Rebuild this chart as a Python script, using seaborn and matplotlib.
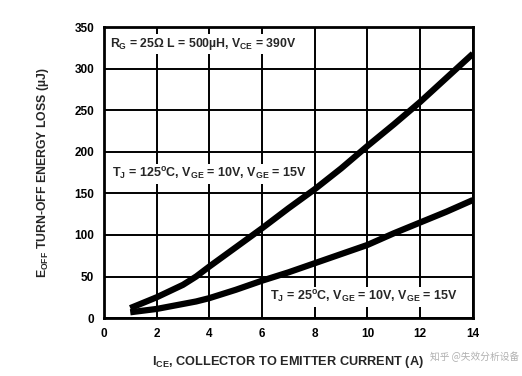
import matplotlib
matplotlib.use("Agg")
import matplotlib.pyplot as plt
import seaborn as sns
import pandas as pd

# Data
current_a = [1, 2, 3, 3.5, 4, 5, 6, 7, 8, 9, 10, 11, 12, 13, 14]
eoff_125c = [12, 25, 40, 50, 62, 85, 108, 132, 155, 180, 207, 233, 260, 289, 318]
eoff_25c = [7, 11, 17, 20, 24, 34, 45, 55, 66, 77, 88, 102, 115, 128, 142]
x_ticks = [0, 2, 4, 6, 8, 10, 12, 14]
y_ticks = [0, 50, 100, 150, 200, 250, 300, 350]

sns.set_theme(style="white")
plt.rcParams['font.family'] = ['Liberation Sans', 'DejaVu Sans']
plt.rcParams['font.weight'] = 'bold'
plt.rcParams['mathtext.fontset'] = 'custom'
plt.rcParams['mathtext.rm'] = 'Liberation Sans:bold'
plt.rcParams['mathtext.it'] = 'Liberation Sans:bold'
plt.rcParams['mathtext.bf'] = 'Liberation Sans:bold'

df = pd.concat([
    pd.DataFrame({"I": current_a, "E": eoff_125c, "curve": "125"}),
    pd.DataFrame({"I": current_a, "E": eoff_25c, "curve": "25"}),
])

fig = plt.figure(figsize=(5.22, 3.76), dpi=100)
ax = fig.add_axes([0.199, 0.154, 0.707, 0.774])
sns.lineplot(data=df, x="I", y="E", hue="curve", palette=["black", "black"],
             linewidth=4.5, legend=False, ax=ax, zorder=3, solid_capstyle='butt')

ax.set_xlim(0, 14)
ax.set_ylim(0, 350)
ax.set_xticks(x_ticks)
ax.set_yticks(y_ticks)
ax.set_xticklabels([str(v) for v in x_ticks], fontsize=8.5, fontweight='bold')
ax.set_yticklabels([str(v) for v in y_ticks], fontsize=8.5, fontweight='bold')
ax.tick_params(axis='both', length=0, pad=7, colors='black')
ax.grid(True, color='black', linewidth=1.4)
ax.set_axisbelow(True)
for s in ax.spines.values():
    s.set_color('black')
    s.set_linewidth(2)

ax.set_xlabel(r"I$_{\mathregular{CE}}$, COLLECTOR TO EMITTER CURRENT (A)",
              fontsize=9.2, fontweight='bold', labelpad=10)
ax.set_ylabel(r"E$_{\mathregular{OFF}}$ TURN-OFF ENERGY LOSS (µJ)",
              fontsize=8.8, fontweight='bold', labelpad=17)

bbox = dict(facecolor='white', edgecolor='none', pad=1.5)
ax.text(0.25, 330, r"R$_{\mathregular{G}}$ = 25Ω L = 500µH, V$_{\mathregular{CE}}$ = 390V",
        fontsize=8.8, fontweight='bold', va='center', ha='left', bbox=bbox, zorder=4)
ax.text(0.3, 173, r"T$_{\mathregular{J}}$ = 125$^{\mathregular{o}}$C, V$_{\mathregular{GE}}$ = 10V, V$_{\mathregular{GE}}$ = 15V",
        fontsize=9, fontweight='bold', va='center', ha='left', bbox=bbox, zorder=4)
ax.text(6.3, 25, r"T$_{\mathregular{J}}$ = 25$^{\mathregular{o}}$C, V$_{\mathregular{GE}}$ = 10V, V$_{\mathregular{GE}}$ = 15V",
        fontsize=9, fontweight='bold', va='center', ha='left', bbox=bbox, zorder=4)

fig.text(0.995, 0.052, "知乎 @失效分析设备", fontsize=7, color='#b0b0b0',
         family=['Noto Sans CJK SC', 'DejaVu Sans'], fontweight='normal',
         va='center', ha='right', zorder=5)

fig.savefig("out.png", dpi=100, facecolor='white')
